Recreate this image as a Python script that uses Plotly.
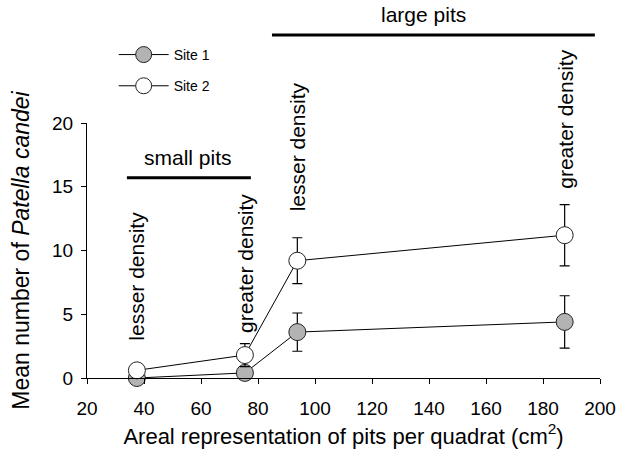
import plotly.graph_objects as go

x_vals = [37.5, 75.4, 93.8, 187.6]
site1_y = [0.0, 0.4, 3.6, 4.4]
site1_err = [0.2, 0.3, 1.5, 2.05]
site2_y = [0.6, 1.8, 9.2, 11.2]
site2_err = [0.4, 0.9, 1.8, 2.4]

ann_labels = ["lesser density", "greater density", "lesser density", "greater density"]
ann_bottom = [2.8, 3.4, 12.9, 14.7]

FONT = "Arial, Liberation Sans, sans-serif"

fig = go.Figure()
fig.add_trace(go.Scatter(
    x=x_vals, y=site1_y, name="Site 1", mode="lines+markers",
    line=dict(color="black", width=1),
    marker=dict(size=17, color="#b3b3b3", line=dict(color="#222222", width=1)),
    error_y=dict(type="data", array=site1_err, color="black", thickness=1.2, width=5),
    legendgroup="a", cliponaxis=False,
))
fig.add_trace(go.Scatter(
    x=x_vals, y=site2_y, name="Site 2", mode="lines+markers",
    line=dict(color="black", width=1),
    marker=dict(size=17, color="white", line=dict(color="#222222", width=1)),
    error_y=dict(type="data", array=site2_err, color="black", thickness=1.2, width=5),
    legendgroup="b", cliponaxis=False,
))

annotations = []
for xv, lab, yb in zip(x_vals, ann_labels, ann_bottom):
    annotations.append(dict(x=xv, y=yb, xref="x", yref="y", text=lab, textangle=-90,
                            showarrow=False, xanchor="center", yanchor="bottom",
                            font=dict(size=21, color="black", family=FONT)))
annotations.append(dict(x=55.5, y=17.3, xref="x", yref="y", text="small pits", showarrow=False,
                        font=dict(size=21, color="black", family=FONT)))
annotations.append(dict(x=138, y=1.48, xref="x", yref="paper", text="large pits", showarrow=False,
                        yanchor="top", font=dict(size=21, color="black", family=FONT)))
fig.update_layout(annotations=annotations)

fig.add_shape(type="line", x0=34.0, x1=77.5, y0=15.7, y1=15.7, xref="x", yref="y",
              line=dict(color="black", width=3))
fig.add_shape(type="line", x0=84.9, x1=198.2, y0=1.345, y1=1.345, xref="x", yref="paper",
              line=dict(color="black", width=3))

fig.update_layout(
    width=619, height=456,
    margin=dict(l=87, r=19, t=123, b=78, autoexpand=False),
    paper_bgcolor="white", plot_bgcolor="white",
    font=dict(family=FONT, size=18, color="black"),
    showlegend=True,
    legend=dict(x=0.052, y=1.206, xanchor="left", yanchor="middle", font=dict(size=14),
                tracegroupgap=10, traceorder="grouped", itemwidth=50, bgcolor="rgba(0,0,0,0)"),
    xaxis=dict(range=[20, 200], tickvals=[20, 40, 60, 80, 100, 120, 140, 160, 180, 200],
               showline=True, linecolor="black", linewidth=1, ticks="outside", ticklen=5,
               tickcolor="black", showgrid=False, zeroline=False,
               tickfont=dict(size=19), ticklabelstandoff=8,
               title=dict(text="Areal representation of pits per quadrat (cm<sup>2</sup>)",
                          font=dict(size=22), standoff=10)),
    yaxis=dict(range=[0, 20], tickvals=[0, 5, 10, 15, 20],
               showline=True, linecolor="black", linewidth=1, ticks="outside", ticklen=5,
               tickcolor="black", showgrid=False, zeroline=False,
               tickfont=dict(size=19), ticklabelstandoff=4,
               title=dict(text="Mean number of <i>Patella candei</i>", font=dict(size=23), standoff=16)),
)

fig.write_html("out.html")
